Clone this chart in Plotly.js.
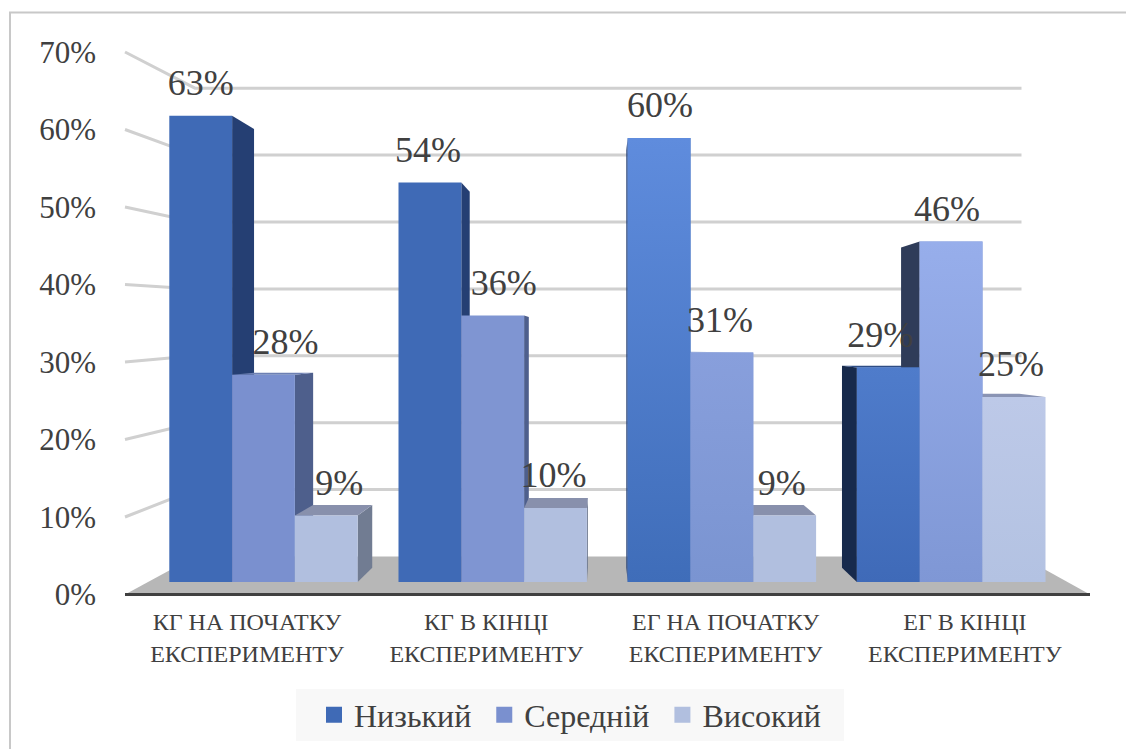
<!DOCTYPE html>
<html><head><meta charset="utf-8">
<script src="https://cdn.plot.ly/plotly-3.0.1.min.js"></script>
<style>html,body{margin:0;padding:0;background:#fff}</style></head>
<body><div id="chart" style="width:1126px;height:749px"></div>
<script>
var categories = ['КГ НА ПОЧАТКУ<br>ЕКСПЕРИМЕНТУ','КГ В КІНЦІ<br>ЕКСПЕРИМЕНТУ','ЕГ НА ПОЧАТКУ<br>ЕКСПЕРИМЕНТУ','ЕГ В КІНЦІ<br>ЕКСПЕРИМЕНТУ'];
var seriesNames = ['Низький','Середній','Високий'];
var nyzkyi = [63,54,60,29];
var serednii = [28,36,31,46];
var vysokyi = [9,10,9,25];
var axisTicks = [0,10,20,30,40,50,60,70];
var allSeries = [nyzkyi,serednii,vysokyi];

// page geometry (pixels)
var W=1126,H=749,L=97,R=1100,T=20,B=599.5;
var catX0=263.5,catStep=229.2,barW=62.8,base0=582,pxPer=7.4;
var vpx=604,vpy=340,kBar=0.059;
var front0=594.5,frontPer=7.75;
var wall0=556.5,wallPer=6.69,wallLeft=195,wallRight=1021.5,floorLeft=125,floorRight=1090;
var labelDx=[[0,22,13],[-2,11,-2],[1,-2,-3],[-8,-4,-3]];
var labelRise=4.0;
var fronts=[['#3f6ab6','#3f6ab6','#3f6cb8','#4471bd'],['#7a90cf','#7f95d2','#8aa1dd','#8199d6'],['#b1bfdf','#b1bfdf','#b1bfdf','#b8c5e4']];
var grads=[[null,null,['#5f8cdd','#3f6db9'],['#4f7ccb','#3f6ab8']],
           [null,null,['#889fdc','#7a94d1'],['#97aeeb','#7f97d5']],
           [null,null,null,['#bdc9e8','#b3c2e2']]];
var sides=[['#253f73','#253f73','#253f73','#172a4c'],['#4e5f8c','#4e5f8c','#4e5f8c','#2f3c59'],['#717c92','#717c92','#717c92','#7c8aac']];
var tops=[['#3e67ae','#3e67ae','#4470be','#2d4c85'],['#6d80b3','#6d80b3','#7388bb','#5d74ad'],['#8890ac','#8890ac','#8890ac','#8a94b4']];

var px2x=function(p){return (p-catX0)/catStep;};
var px2y=function(p){return (base0-p)/pxPer;};
function px2x2(p){return (p-247)/239.3;}
var vx=px2x(vpx), vy=px2y(vpy);
var bw=barW/catStep;
var back=function(x,v,k){return [x+k*(vx-x), v+k*(vy-v)];};
var tickY=function(v){return px2y(front0-v*frontPer);};
var wallY=function(v){return px2y(wall0-v*wallPer);};

var traces=[];
var rx=[px2x(L),px2x(R)], ry=[px2y(B),px2y(T)];

// back plane: floor, wall lines on base axes x/y
var fl=px2x(floorLeft),fr=px2x(floorRight),wl=px2x(wallLeft),wr=px2x(wallRight);
traces.push({type:'scatter',mode:'lines',x:[fl,fr,wr,wl,fl],y:[tickY(0),tickY(0),wallY(0),wallY(0),tickY(0)],fill:'toself',fillcolor:'#b7b7b7',line:{width:0},hoverinfo:'skip',showlegend:false});
axisTicks.forEach(function(t){
  if(t>0){
  traces.push({type:'scatter',mode:'lines',x:[fl,wl,wr],y:[tickY(t),wallY(t),wallY(t)],line:{color:'#d0d0d0',width:3},hoverinfo:'skip',showlegend:false});
  }
});
// side and top faces
allSeries.forEach(function(vals,s){
  vals.forEach(function(v,c){
    var xl=c+(s-1.5)*bw, xr=xl+bw;
    var edge=xr<vx?xr:(xl>vx?xl:null);
    if(edge!==null){
      var a=back(edge,v,kBar), b=back(edge,0,kBar);
      traces.push({type:'scatter',mode:'lines',x:[edge,edge,a[0],b[0],edge],y:[0,v,a[1],b[1],0],fill:'toself',fillcolor:sides[s][c],line:{width:0},hoverinfo:'skip',showlegend:false});
    }
    if(v<vy){
      var p=back(xl,v,kBar), q=back(xr,v,kBar);
      traces.push({type:'scatter',mode:'lines',x:[xl,xr,q[0],p[0],xl],y:[v,v,q[1],p[1],v],fill:'toself',fillcolor:tops[s][c],line:{width:0},hoverinfo:'skip',showlegend:false});
    }
  });
});
// real bars, in an overlaying subplot so they cover the faces
allSeries.forEach(function(vals,s){
  traces.push({type:'bar',name:seriesNames[s],x:[0,1,2,3],y:vals,xaxis:'x3',yaxis:'y3',marker:{color:fronts[s],line:{width:0}},showlegend:false});
});
// gradient sheen on the front faces
allSeries.forEach(function(vals,s){
  vals.forEach(function(v,c){
    if(!grads[s][c])return;
    var xl=c+(s-1.5)*bw, xr=xl+bw;
    traces.push({type:'scatter',mode:'lines',xaxis:'x3',yaxis:'y3',x:[xl,xr,xr,xl,xl],y:[0,0,v,v,0],fill:'toself',line:{width:0},
      fillgradient:{type:'vertical',colorscale:[[0,grads[s][c][1]],[1,grads[s][c][0]]]},hoverinfo:'skip',showlegend:false});
  });
});
// front edge of the floor, tick axis
traces.push({type:'scatter',mode:'lines',xaxis:'x2',yaxis:'y2',x:[px2x2(floorLeft),px2x2(floorRight)],y:[0,0],line:{color:'#404040',width:3},hoverinfo:'skip',showlegend:false});
// value labels
allSeries.forEach(function(vals,s){
  traces.push({type:'scatter',mode:'text',xaxis:'x3',yaxis:'y3',
    x:vals.map(function(v,c){return c+(s-1)*bw+labelDx[c][s]/catStep;}),
    y:vals.map(function(v){return v+labelRise;}),
    text:vals.map(function(v){return v+'%';}),textposition:'middle center',
    textfont:{family:'Liberation Serif',size:36,color:'#404040'},hoverinfo:'skip',showlegend:false});
});
// legend keys
allSeries.forEach(function(vals,s){
  traces.push({type:'scatter',mode:'markers',name:seriesNames[s]+'\u00a0',x:[null],y:[null],marker:{symbol:'square',size:16,color:fronts[s][0]},hoverinfo:'skip'});
});

var hidden=function(extra){return Object.assign({showgrid:false,zeroline:false,showline:false,showticklabels:false,ticks:''},extra);};
var dom=[L/W,R/W], domY=[1-B/H,1-T/H];
var layout={
  width:W,height:H,margin:{l:0,r:0,t:0,b:0},paper_bgcolor:'#fff',plot_bgcolor:'rgba(0,0,0,0)',
  barmode:'group',bargap:1-3*bw,bargroupgap:0,showlegend:true,hovermode:false,
  font:{family:'Liberation Serif',color:'#404040'},
  xaxis:hidden({domain:dom,range:rx,type:'linear',anchor:'y'}),
  yaxis:hidden({domain:domY,range:ry,anchor:'x'}),
  xaxis3:hidden({domain:dom,range:rx,type:'linear',anchor:'y3',overlaying:'x'}),
  yaxis3:hidden({domain:domY,range:ry,anchor:'x3',overlaying:'y'}),
  xaxis2:{domain:dom,range:[px2x2(L),px2x2(R)],type:'linear',anchor:'y2',overlaying:'x',showgrid:false,zeroline:false,showline:false,
    tickmode:'array',tickvals:[0,1,2,3],ticktext:categories,ticks:'outside',ticklen:1,tickcolor:'rgba(0,0,0,0)',tickfont:{family:'Liberation Serif',size:24,color:'#404040'},side:'bottom'},
  yaxis2:{domain:domY,range:[(front0-B)/frontPer,(front0-T)/frontPer],anchor:'x2',overlaying:'y',showgrid:false,zeroline:false,showline:false,
    tickmode:'array',tickvals:axisTicks,ticktext:axisTicks.map(function(t){return t+'%';}),ticks:'',tickfont:{family:'Liberation Serif',size:31,color:'#404040'},side:'left'},
  legend:{orientation:'h',x:314/W,xanchor:'left',y:1-715/H,yanchor:'middle',bgcolor:'rgba(0,0,0,0)',font:{family:'Liberation Serif',size:32,color:'#404040'},itemwidth:30,itemclick:false,itemdoubleclick:false},
  shapes:[
    {type:'rect',xref:'paper',yref:'paper',x0:10/W,x1:1.01,y0:-0.01,y1:1-12.5/H,line:{color:'#c8c8c8',width:2},fillcolor:'rgba(0,0,0,0)',layer:'below'},
    {type:'rect',xref:'paper',yref:'paper',x0:296/W,x1:844/W,y0:1-741/H,y1:1-689/H,line:{width:0},fillcolor:'#f8f8f8',layer:'below'}
  ]
};
Plotly.newPlot('chart',traces,layout,{displayModeBar:false,staticPlot:true});
</script></body></html>
